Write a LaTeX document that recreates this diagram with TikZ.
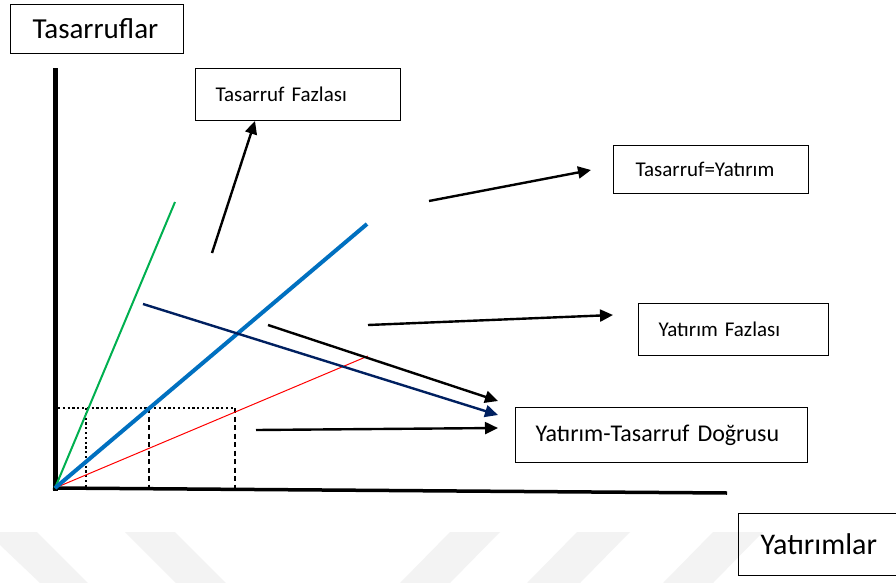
\documentclass[tikz,border=0pt]{standalone}
\usepackage{fontspec}
\setmainfont{Carlito}
\usetikzlibrary{arrows.meta}
\definecolor{sgreen}{HTML}{00B050}
\definecolor{sblue}{HTML}{0070C0}
\definecolor{snavy}{HTML}{002060}
\definecolor{sred}{HTML}{FF0000}
\definecolor{wmark}{HTML}{F3F3F3}
\tikzset{
  lbox/.style={draw=black, line width=1pt, rectangle, anchor=north west,
    align=left, inner ysep=0pt},
  axisline/.style={line width=#1, black},
  tiphead/.style={-{Triangle[length=13pt,width=12pt]}},
  pointer/.style={line width=2.4pt, tiphead},
  guide/.style={line width=1.8pt, black},
}
\begin{document}
\begin{tikzpicture}[x=1pt,y=-1pt]
\useasboundingbox (0,0) rectangle (896,583);
\fill[white] (0,0) rectangle (896,583);

% faint background stripes
\fill[wmark] (0,532) -- (37,532) -- (88,583) -- (40,583) -- (0,545) -- cycle;
\fill[wmark] (125,532) -- (175,532) -- (226,583) -- (176,583) -- cycle;
\fill[wmark] (450,532) -- (500,532) -- (450,583) -- (400,583) -- cycle;
\fill[wmark] (577,532) -- (630,532) -- (580,583) -- (527,583) -- cycle;
\fill[wmark] (713,532) -- (763,532) -- (713,583) -- (663,583) -- cycle;

% label boxes
\node[lbox, font=\fontsize{29}{33}\selectfont, minimum height=49pt,
  inner xsep=22pt, text width=129pt] (ts) at (10,4) {Tasarruflar};
\node[lbox, font=\fontsize{21}{24}\selectfont, minimum height=52pt,
  inner xsep=20pt, text width=165pt] (tf) at (195,68) {Tasarruf Fazlası};
\node[lbox, font=\fontsize{21}{24}\selectfont, minimum height=48pt,
  inner xsep=22pt, text width=151pt] (te) at (613,145) {Tasarruf=Yatırım};
\node[lbox, font=\fontsize{21}{24}\selectfont, minimum height=52pt,
  inner xsep=20pt, text width=150pt] (yf) at (638,303) {Yatırım Fazlası};
\node[lbox, font=\fontsize{24}{28}\selectfont, minimum height=55pt,
  inner xsep=20pt, text width=252pt] (yt) at (515,407) {Yatırım-Tasarruf Doğrusu};
\node[lbox, font=\fontsize{30}{34}\selectfont, minimum height=62pt,
  inner xsep=22pt, text width=140pt] (ya) at (738,513) {Yatırımlar};

% axes
\coordinate (O) at (55,488);
\coordinate (ytop) at (55,68);
\coordinate (xend) at (727,493);
\draw[axisline=5pt] (55,490.5) -- (ytop);
\draw[axisline=3.5pt] (53,488) -- (xend);

% guide lines
\coordinate (g0) at (58,408);
\coordinate (g1) at (86,408);
\coordinate (g2) at (149,408);
\coordinate (g3) at (235,408);
\draw[guide, dash pattern=on 2.2pt off 2.6pt] (g0) -- (g3);
\draw[guide, dash pattern=on 2.2pt off 2.6pt] (g1) -- (86,488);
\draw[guide, dash pattern=on 5pt off 3.5pt] (g2) -- (149,488);
\draw[guide, dash pattern=on 5pt off 3.5pt] (g3) -- (235,488);

% lines from the origin
\coordinate (gEnd) at (175,202);
\coordinate (bEnd) at (367,224);
\coordinate (rEnd) at (368,356);
\draw[sred, line width=1pt] (O) -- (rEnd);
\draw[sgreen, line width=2pt] (O) -- (gEnd);
\draw[sblue, line width=4pt] (O) -- (bEnd);

% investment-saving line
\coordinate (nStart) at (143,304);
\coordinate (nEnd) at (498,415);
\draw[snavy, line width=2.4pt, tiphead] (nStart) -- (nEnd);

% pointers to the labels
\coordinate (p1s) at (212,253);
\coordinate (p2s) at (429,201);
\coordinate (p2e) at (591,170);
\coordinate (p3s) at (368,325);
\coordinate (p3e) at (613,315);
\coordinate (p4s) at (268,325);
\coordinate (p4e) at (498,401);
\coordinate (p5s) at (256,430);
\coordinate (p5e) at (498,428);
\draw[pointer] (p1s) -- (tf.south west -| 255,0);
\draw[pointer] (p2s) -- (p2e);
\draw[pointer] (p3s) -- (p3e);
\draw[pointer] (p4s) -- (p4e);
\draw[pointer] (p5s) -- (p5e);
\end{tikzpicture}
\end{document}
